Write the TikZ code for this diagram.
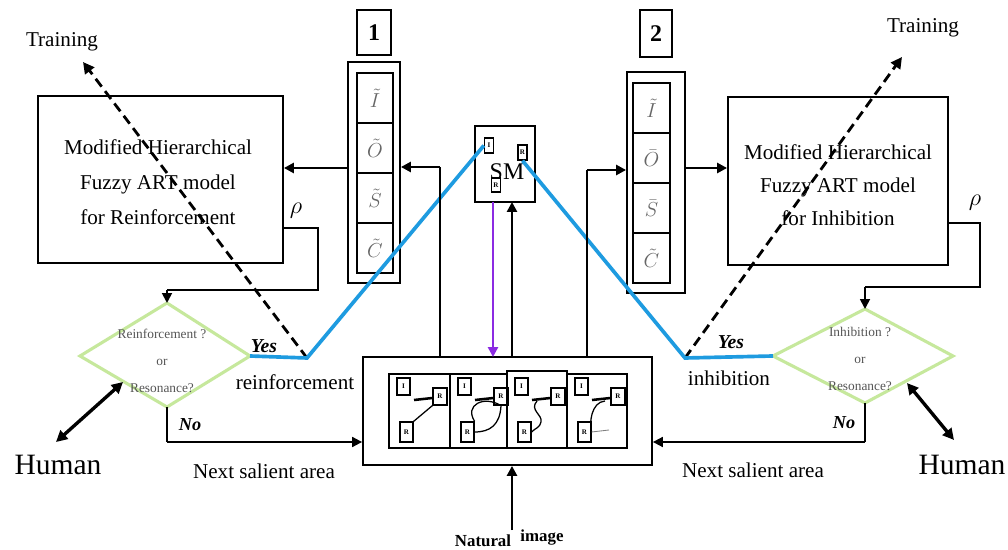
\documentclass[tikz,border=0pt]{standalone}
\usepackage{fontspec}
\setmainfont{Liberation Serif}
\usetikzlibrary{arrows.meta,calc}
\definecolor{bluelink}{HTML}{1E9BE0}
\definecolor{purplelink}{HTML}{8B2BE2}
\definecolor{greenedge}{HTML}{C6E89C}
\definecolor{celltext}{HTML}{666666}
\definecolor{dtext}{HTML}{555555}
\newcommand{\px}[1]{#1*0.025cm}
\newcommand{\fs}[1]{\fontsize{#1}{#1}\selectfont}
\tikzset{
  bx/.style={draw, line width=1.3pt, inner sep=0pt},
  cell/.style={draw, line width=1.3pt, inner sep=0pt, minimum width={\px{36}}, minimum height={\px{50}}, text=celltext, font=\fs{15}},
  ln/.style={line width=1.3pt},
  arr/.style={line width=2pt, -{Triangle[length=7pt,width=7pt]}},
  darr/.style={line width=2.4pt, {Triangle[length=8pt,width=8pt]}-{Triangle[length=8pt,width=8pt]}},
  bl/.style={draw=bluelink, line width=2.6pt, line join=miter},
  dasharrow/.style={line width=2pt, dash pattern=on 7pt off 4pt, -{Triangle[length=8pt,width=8pt]}},
  sq/.style={draw, line width=0.9pt, inner sep=0pt, font=\fs{5}\bfseries},
  dia/.style={draw=greenedge, line width=2.2pt, line join=miter},
  txt/.style={font=\fs{15}, inner sep=0pt}
}
\newcommand{\panel}[3]{%
  \node[sq, minimum width={\px{13}}, minimum height={\px{17}}] (#3a) at (#1+14.5,386.5) {I};
  \node[sq, minimum width={\px{14}}, minimum height={\px{17}}] (#3b) at (#1+51,396.5) {R};
  \node[sq, minimum width={\px{13}}, minimum height={\px{20}}] (#3c) at (#1+17.5,432) {R};
  \draw[line width=1.8pt] (#1+25,400) -- (#3b.west |- 0,398);
  #2
}
\begin{document}
\begin{tikzpicture}[x=0.025cm,y=-0.025cm]
\useasboundingbox[fill=white] (0,0) rectangle (1008,550);

% ---- left model box
\node[bx, minimum width={\px{245}}, minimum height={\px{167}}] (lbox) at (160.5,179.5) {};
\node[txt, align=center, font=\fs{15}\linespread{1.65}\selectfont] (ltext) at (158,182) {Modified Hierarchical\\Fuzzy ART model\\for Reinforcement};
% ---- right model box
\node[bx, minimum width={\px{220}}, minimum height={\px{168}}] (rbox) at (838,181) {};
\node[txt, align=center, font=\fs{15}\linespread{1.55}\selectfont] (rtext) at (838,185) {Modified Hierarchical\\Fuzzy ART model\\for Inhibition};

% ---- column 1
\node[bx, minimum width={\px{34}}, minimum height={\px{45}}, font=\fs{17}\bfseries] (one) at (374,32.5) {1};
\node[bx, minimum width={\px{52}}, minimum height={\px{221}}] (col1) at (374,172.5) {};
\node[cell] (c1i) at (375,98) {$\tilde{I}$};
\node[cell] (c1o) at (375,148) {$\tilde{O}$};
\node[cell] (c1s) at (375,198) {$\tilde{S}$};
\node[cell] (c1c) at (375,248) {$\tilde{C}$};
% ---- column 2
\node[bx, minimum width={\px{32}}, minimum height={\px{47}}, font=\fs{17}\bfseries] (two) at (656,33.5) {2};
\node[bx, minimum width={\px{58}}, minimum height={\px{221}}] (col2) at (656,182.5) {};
\node[cell, minimum width={\px{37}}] (c2i) at (651.5,108) {$\tilde{I}$};
\node[cell, minimum width={\px{37}}] (c2o) at (651.5,158) {$\bar{O}$};
\node[cell, minimum width={\px{37}}] (c2s) at (651.5,208) {$\bar{S}$};
\node[cell, minimum width={\px{37}}] (c2c) at (651.5,258) {$\tilde{C}$};

% ---- SM box
\node[bx, minimum width={\px{60}}, minimum height={\px{76}}] (sm) at (505,164) {};
\node[font=\fs{17}, inner sep=0pt] (smt) at (507,172) {SM};
\node[sq, fill=white, minimum width={\px{9}}, minimum height={\px{15}}] (sm1) at (489,145.5) {I};
\node[sq, fill=white, minimum width={\px{9}}, minimum height={\px{15}}] (sm2) at (522.5,152.5) {R};
\node[sq, fill=white, minimum width={\px{9}}, minimum height={\px{14}}] (sm3) at (496,185) {R};

% ---- main box with four panels
\node[bx, minimum width={\px{289}}, minimum height={\px{108}}] (mbox) at (507.5,411) {};
\draw[ln] (389,374) rectangle (450,448);
\draw[ln] (450,374) rectangle (507,448);
\draw[ln] (507,371) rectangle (567,448);
\draw[ln] (567,374) rectangle (627,448);
\panel{389}{\draw[line width=0.9pt] (pIc.north east) -- (pIb.south west);}{pI}
\panel{450}{\draw[line width=0.9pt] (pOc.north east) .. controls (444+20,405) and (444+40,395) .. (pOb.south) .. controls (450+50,425) and (450+40,432) .. (pOc.east);}{pO}
\panel{507}{\draw[line width=0.9pt] (507+30,401) .. controls (507+22,410) and (507+36,415) .. (507+34,422) .. controls (507+33,428) and (507+28,428) .. (pSc.east);}{pS}
\panel{567}{\draw[line width=0.9pt] (567+38,401) .. controls (567+24,402) and (567+22,424) .. (pCc.east) ; \draw[line width=0.6pt, gray] (pCc.east) -- (567+42,430);}{pC}

% ---- diamonds
\coordinate (dLt) at (167,303);
\coordinate (dLr) at (250,356);
\coordinate (dLb) at (167,407);
\coordinate (dLl) at (80,356);
\draw[dia] (dLt) -- (dLr) -- (dLb) -- (dLl) -- cycle;
\node[align=center, text=dtext, font=\fs{9.5}\linespread{2}\selectfont, inner sep=0pt] (dLtext) at (162,361) {Reinforcement ?\\or\\Resonance?};
\coordinate (dRt) at (865,309);
\coordinate (dRr) at (953,356);
\coordinate (dRb) at (865,403);
\coordinate (dRl) at (773,356);
\draw[dia] (dRt) -- (dRr) -- (dRb) -- (dRl) -- cycle;
\node[align=center, text=dtext, font=\fs{9.5}\linespread{2}\selectfont, inner sep=0pt] (dRtext) at (860,359) {Inhibition ?\\or\\Resonance?};

% ---- rho feedback lines
\node[font=\fs{17}, inner sep=0pt] (rhoL) at (296,211) {$\rho$};
\node[font=\fs{17}, inner sep=0pt] (rhoR) at (975,203) {$\rho$};
\coordinate (lrho) at (lbox.east |- 0,228);
\coordinate (rrho) at (rbox.east |- 0,223);
\draw[ln] (lrho) -- (318,228) -- (318,290) -- (167,290);
\draw[arr, line width=1.3pt] (167,290) -- (dLt);
\draw[ln] (rrho) -- (980,223) -- (980,287) -- (865,287);
\draw[arr, line width=1.3pt] (865,287) -- (dRt);

% ---- training (dashed)
\node[txt] (trL) at (62,42) {Training};
\node[txt] (trR) at (923,28) {Training};
\coordinate (yesL) at (307,358);
\coordinate (yesR) at (685,358);
\draw[dasharrow] (yesL) -- (83,62);
\draw[dasharrow] (yesR) -- (902,57);

% ---- blue links
\draw[bl] (dLr) -- (yesL) -- (sm1.west);
\draw[bl] (dRl) -- (yesR) -- (sm2.south);

% ---- labels near diamonds
\node[font=\fs{14}\bfseries\itshape, inner sep=0pt] (yesLt) at (264,346) {Yes};
\node[txt] (reinf) at (295,382) {reinforcement};
\node[font=\fs{14}\bfseries\itshape, inner sep=0pt] (yesRt) at (731,342) {Yes};
\node[txt] (inhib) at (729,378) {inhibition};
\node[font=\fs{13}\bfseries\itshape, inner sep=0pt] (noL) at (190,425) {No};
\node[font=\fs{13}\bfseries\itshape, inner sep=0pt] (noR) at (844,423) {No};

% ---- next salient area
\draw[ln] (dLb) -- (167,442);
\draw[arr, line width=1.3pt] (167,442) -- (mbox.west |- 0,442);
\draw[ln] (dRb) -- (865,442);
\draw[arr, line width=1.3pt] (865,442) -- (mbox.east |- 0,442);
\node[txt] (nsL) at (264,471) {Next salient area};
\node[txt] (nsR) at (753,470) {Next salient area};

% ---- humans
\node[font=\fs{21}, inner sep=0pt] (humL) at (58,465) {Human};
\node[font=\fs{21}, inner sep=0pt] (humR) at (962,465) {Human};
\draw[darr] (123,382) -- (56,442);
\draw[darr] (907,383) -- (954,440);

% ---- column connections
\draw[arr] (col1.west |- 0,168) -- (lbox.east |- 0,168);
\draw[arr] (col2.east |- 0,168) -- (rbox.west |- 0,168);
\draw[ln] (440,357) -- (440,167);
\draw[arr] (440,167) -- (col1.east |- 0,167);
\draw[ln] (587,357) -- (587,170);
\draw[arr] (587,170) -- (col2.west |- 0,170);

% ---- SM connections
\draw[arr, draw=purplelink, fill=purplelink, line width=2pt] (493,202) -- (493,357);
\draw[arr] (512,357) -- (512,202);

% ---- natural image
\coordinate (nat) at (512,530);
\draw[arr] (nat) -- (mbox.south -| 512,0);
\node[font=\fs{12}\bfseries, inner sep=0pt, anchor=base] (natural) at (483,546) {Natural};
\node[font=\fs{12}\bfseries, inner sep=0pt, anchor=base] (image) at (542,541) {image};
\end{tikzpicture}
\end{document}
